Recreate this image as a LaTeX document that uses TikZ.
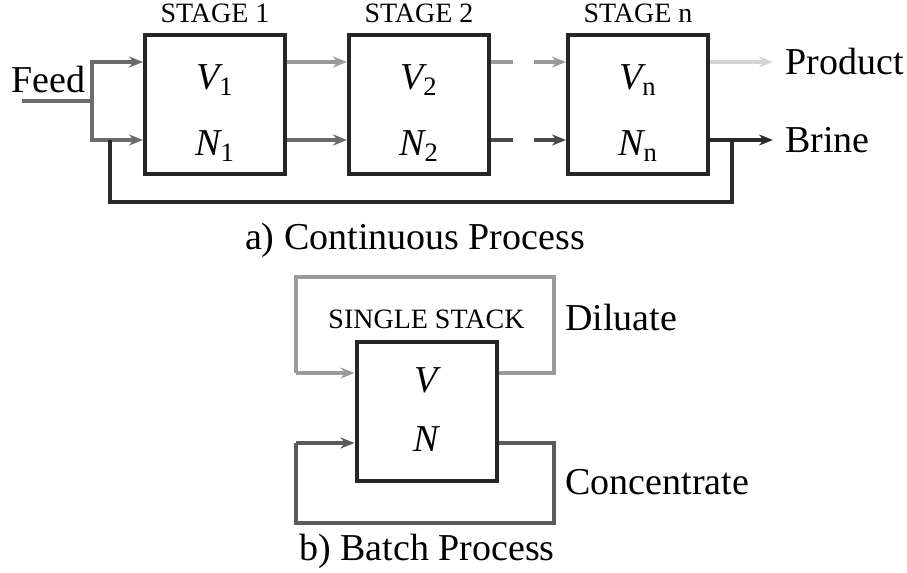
\documentclass[tikz,border=0pt]{standalone}
\usepackage{fontspec}
\setmainfont{Liberation Serif}
\usepackage{xcolor}
\definecolor{boxedge}{HTML}{262626}
\definecolor{lightflow}{HTML}{9A9A9A}
\definecolor{midflow}{HTML}{6B6B6B}
\definecolor{darkflow}{HTML}{2A2A2A}
\definecolor{paleflow}{HTML}{D4D4D4}
\usepackage{tikz}
\usetikzlibrary{arrows.meta, positioning, calc}

\newcommand{\qty}[2]{$\mathit{#1}_{\mathrm{#2}}$}

\begin{document}
\begin{tikzpicture}[
  x=0.5pt, y=-0.5pt,
  font=\fontsize{19}{22}\selectfont,
  stage/.style={
    draw=boxedge, line width=2pt, fill=white,
    minimum width=70pt, minimum height=69.5pt, inner sep=0pt
  },
  tag/.style={font=\fontsize{14}{16}\selectfont, inner sep=0pt},
  flow/.style={line width=1.7pt, -{Stealth[length=7pt, width=5.5pt]}},
  pipe/.style={line width=1.7pt}
]
  \useasboundingbox (0,0) rectangle (907,573);

  % continuous process
  \coordinate (rowV) at (0,62);
  \coordinate (rowN) at (0,140);

  \node[stage] (s1) at (215,104.5) {};
  \node[stage] (s2) at (419,104.5) {};
  \node[stage] (sn) at (638,104.5) {};

  \node[tag, above=5pt of s1] {STAGE 1};
  \node[tag, above=5pt of s2] {STAGE 2};
  \node[tag, above=5pt of sn] {STAGE n};

  \node at (s1 |- 0,80) {\qty{V}{1}};
  \node at (s1 |- 0,146) {\qty{N}{1}};
  \node at (s2 |- 0,80) {\qty{V}{2}};
  \node at (s2 |- 0,146) {\qty{N}{2}};
  \node at (sn |- 0,80) {\qty{V}{n}};
  \node at (sn |- 0,146) {\qty{N}{n}};

  \coordinate (feedin) at (22,101);
  \coordinate (split) at (92,101);
  \node[anchor=base west, inner sep=0pt] (feed) at (11,92) {Feed};

  \draw[pipe, midflow] (feedin) -- (split);
  \draw[flow, midflow] (split) |- (s1.west |- rowV);
  \draw[flow, midflow] (split) |- (s1.west |- rowN);

  \draw[flow, lightflow] (s1.east |- rowV) -- (s2.west |- rowV);
  \draw[flow, midflow] (s1.east |- rowN) -- (s2.west |- rowN);
  \draw[flow, lightflow, dash pattern=on 11pt off 10.5pt on 40pt]
    (s2.east |- rowV) -- (sn.west |- rowV);
  \draw[flow, darkflow!85!white, dash pattern=on 11pt off 10.5pt on 40pt]
    (s2.east |- rowN) -- (sn.west |- rowN);

  \node[anchor=west, inner sep=0pt] (product) at (785,62) {Product};
  \node[anchor=west, inner sep=0pt] (brine) at (785,140) {Brine};
  \draw[flow, paleflow] (sn.east |- rowV) -- ($(product.west)+(-12,0)$);
  \draw[flow, darkflow] (sn.east |- rowN) -- ($(brine.west)+(-12,0)$);

  % brine recycle
  \coordinate (tap) at (732,140);
  \coordinate (back) at (110,140);
  \coordinate (floor) at (0,202);
  \draw[pipe, darkflow] (tap) -- (tap |- floor) -- (back |- floor) -- (back);

  \node (capa) at (415,240) {a) Continuous Process};

  % batch process
  \node[stage] (stack) at (426.5,411) {};
  \node[tag, above=5pt of stack] {SINGLE STACK};
  \node at (stack |- 0,383) {\qty{V}{}};
  \node at (stack |- 0,442) {\qty{N}{}};

  \coordinate (dtop) at (554,277);
  \coordinate (dleft) at (296,373);
  \coordinate (cbot) at (554,523);
  \coordinate (cleft) at (296,443);

  \draw[pipe, lightflow] (stack.east |- dleft) -| (dtop) -| (dleft);
  \draw[flow, lightflow] (dleft) -- (stack.west |- dleft);
  \draw[pipe, midflow!85!black] (stack.east |- cleft) -| (cbot) -| (cleft);
  \draw[flow, midflow!85!black] (cleft) -- (stack.west |- cleft);

  \node[anchor=west, inner sep=0pt] (diluate) at (565,318) {Diluate};
  \node[anchor=west, inner sep=0pt] (concentrate) at (565,482) {Concentrate};

  \node (capb) at (427,551) {b) Batch Process};
\end{tikzpicture}
\end{document}
